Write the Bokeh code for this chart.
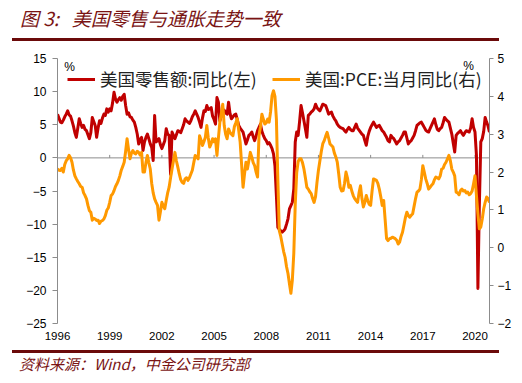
import pandas as pd
from bokeh.plotting import figure
from bokeh.models import Range1d, LinearAxis, FixedTicker, Span, Legend, LegendItem, Label, Div
from bokeh.layouts import column
from bokeh.embed import file_html
from bokeh.resources import INLINE

# ---------------- texts ----------------
TITLE = "图 3:   美国零售与通胀走势一致"
SOURCE = "资料来源：Wind，中金公司研究部"
SERIES_LEFT = "美国零售额:同比(左)"
SERIES_RIGHT = "美国:PCE:当月同比(右)"
UNIT = "%"
START_MONTH = "1996-01-01"

# ---------------- data (monthly, Jan 1996 - Nov 2020) ----------------
retail_yoy = [
    6.6, 6.0, 5.4, 5.3, 5.7, 6.2, 6.6, 7.1, 6.5, 6.3, 5.6, 4.8,          # 1996
    3.8, 3.1, 4.5, 5.9, 5.2, 4.6, 4.9, 4.3, 4.1, 3.5, 2.9, 3.8,          # 1997
    6.1, 5.5, 4.9, 3.1, 4.5, 5.6, 5.2, 6.0, 6.6, 6.4, 7.4, 6.9,          # 1998
    7.4, 7.1, 8.3, 9.9, 8.9, 8.4, 8.8, 9.1, 8.7, 9.3, 9.6, 7.9,          # 1999
    6.6, 6.8, 6.2, 6.1, 5.7, 5.4, 4.6, 3.6, 2.1, 2.8, 3.1, 1.1,          # 2000
    2.4, 3.1, 3.6, 2.9, 2.1, 1.6, -0.4, 6.4, 2.4, 2.6, 2.9, 2.0,         # 2001
    1.4, 2.0, 2.6, 4.4, 3.6, 3.4, -2.5, 3.9, 3.4, 2.9, 3.5, 4.1,         # 2002
    4.0, 3.8, 4.4, 5.0, 5.9, 5.6, 5.4, 5.2, 5.6, 6.2, 6.6, 7.1,          # 2003
    6.6, 6.1, 5.4, 4.6, 6.0, 7.1, 7.0, 7.9, 7.3, 7.4, 7.6, 6.3,          # 2004
    5.8, 5.1, 9.1, 8.4, 5.6, 6.4, 6.9, 7.2, 6.8, 6.6, 8.4, 6.7,          # 2005
    5.9, 6.2, 6.5, 6.6, 5.8, 4.9, 4.5, 4.2, 3.9, 3.0, 2.1, 2.7,          # 2006
    3.4, 3.6, 3.9, 3.2, 2.6, 3.3, 4.1, 4.6, 5.1, 4.0, 3.4, 2.9,          # 2007
    2.6, 2.1, 2.3, 1.9, 1.4, 0.6, -1.2, -5.7, -10.5, -10.8, -11.0, -11.2,  # 2008
    -11.0, -10.7, -10.0, -9.2, -7.7, -7.2, -6.7, -4.7, 2.4, 3.9, 3.4, 5.5,  # 2009
    7.9, 6.8, 5.6, 4.4, 3.1, 6.4, 6.6, 6.9, 7.1, 7.4, 8.1, 7.6,          # 2010
    7.3, 7.1, 7.6, 8.1, 8.0, 7.9, 7.3, 6.6, 6.8, 6.9, 6.3, 5.9,          # 2011
    5.6, 5.1, 4.8, 4.6, 4.5, 4.4, 4.1, 3.9, 4.3, 4.6, 4.3, 4.1,          # 2012
    4.1, 4.6, 5.1, 4.5, 4.2, 3.9, 3.6, 3.4, 2.6, 1.9, 3.2, 4.0,          # 2013
    4.6, 5.0, 5.4, 5.0, 4.6, 4.8, 4.9, 4.5, 4.1, 3.9, 3.5, 3.1,          # 2014
    2.6, 2.4, 3.4, 3.1, 2.9, 2.5, 2.1, 2.4, 2.6, 3.0, 3.4, 3.9,          # 2015
    3.9, 3.0, 2.1, 2.4, 2.6, 3.0, 3.4, 4.1, 4.9, 5.1, 5.3, 5.4,          # 2016
    5.0, 4.6, 4.2, 4.0, 3.9, 4.4, 4.9, 5.4, 5.9, 5.0, 4.3, 4.1,          # 2017
    4.4, 4.6, 5.3, 6.1, 5.8, 5.6, 5.4, 4.5, 3.6, 2.2, 0.9, 3.4,          # 2018
    3.7, 3.9, 4.1, 3.7, 3.4, 3.8, 4.1, 4.0, 3.9, 4.5, 5.9, 4.6,          # 2019
    3.9, 0.4, -19.7, -7.2, 2.4, 2.9, 4.0, 6.1, 5.4, 4.8, 3.9,            # 2020
]

pce_yoy = [
    2.08, 2.05, 2.04, 2.10, 2.00, 2.20, 2.30, 2.35, 2.44, 2.38, 2.26, 2.05,  # 1996
    1.90, 1.82, 1.75, 1.69, 1.62, 1.60, 1.45, 1.38, 1.29, 1.12, 0.98, 0.94,  # 1997
    0.73, 0.78, 0.76, 0.72, 0.73, 0.64, 0.70, 0.72, 0.76, 0.85, 0.99, 1.05,  # 1998
    1.20, 1.38, 1.42, 1.51, 1.62, 1.69, 1.78, 1.90, 2.05, 2.15, 2.26, 2.55,  # 1999
    2.88, 2.60, 2.35, 2.50, 2.57, 2.50, 2.48, 2.55, 2.52, 2.45, 2.52, 2.00,  # 2000
    2.00, 2.25, 2.44, 2.25, 2.08, 1.70, 1.45, 1.29, 1.20, 1.12, 0.73, 0.95,  # 2001
    1.20, 1.10, 1.03, 1.25, 1.45, 1.60, 1.85, 2.08, 2.30, 2.52, 2.30, 2.13,  # 2002
    1.95, 1.80, 1.73, 1.70, 1.82, 1.85, 1.78, 1.85, 1.95, 2.05, 2.25, 2.44,  # 2003
    2.40, 2.35, 2.96, 2.85, 2.70, 2.80, 2.92, 3.23, 2.90, 2.66, 2.75, 2.88,  # 2004
    2.80, 2.88, 2.44, 2.90, 3.32, 3.55, 3.79, 3.23, 3.00, 2.88, 3.14, 3.05,  # 2005
    3.00, 2.96, 3.20, 3.30, 3.41, 3.10, 2.79, 2.20, 1.60, 1.95, 2.26, 2.08,  # 2006
    2.30, 2.52, 2.40, 2.25, 2.17, 2.00, 1.87, 2.96, 3.20, 3.53, 3.40, 3.27,  # 2007
    3.30, 3.40, 3.32, 3.60, 4.02, 4.15, 4.00, 3.40, 1.80, 0.45, 0.30, 0.10,  # 2008
    -0.10, -0.25, -0.50, -0.68, -0.95, -1.20, -0.85, -0.15, 1.15, 1.98, 2.28, 2.35,  # 2009
    2.35, 2.25, 2.08, 1.85, 1.60, 1.55, 1.48, 1.43, 1.30, 1.20, 1.35, 1.73,  # 2010
    2.05, 2.30, 2.55, 2.75, 2.83, 2.95, 3.05, 2.90, 2.74, 2.70, 2.66, 2.50,  # 2011
    2.40, 2.26, 1.95, 1.60, 1.50, 1.51, 1.70, 2.00, 1.85, 1.60, 1.65, 1.50,  # 2012
    1.38, 1.30, 1.25, 1.20, 1.45, 1.64, 1.30, 1.08, 1.20, 1.38, 1.25, 1.15,  # 2013
    1.12, 1.50, 1.82, 1.80, 1.78, 1.70, 1.55, 1.35, 1.12, 1.25, 0.75, 0.24,  # 2014
    0.19, 0.24, 0.25, 0.28, 0.26, 0.24, 0.20, 0.10, 0.15, 0.30, 0.41, 0.60,  # 2015
    0.80, 0.94, 0.85, 0.81, 0.86, 0.90, 1.10, 1.30, 1.47, 1.50, 1.55, 1.80,  # 2016
    2.17, 2.00, 1.82, 1.70, 1.55, 1.60, 1.65, 1.69, 1.80, 1.87, 1.85, 1.82,  # 2017
    1.90, 2.08, 2.10, 2.20, 2.26, 2.35, 2.44, 2.30, 2.08, 2.00, 1.90, 1.47,  # 2018
    1.45, 1.40, 1.51, 1.55, 1.50, 1.51, 1.45, 1.47, 1.40, 1.43, 1.50, 1.69,  # 2019
    1.90, 1.38, 0.90, 0.50, 0.55, 0.76, 1.03, 1.20, 1.34, 1.30, 1.20,        # 2020
]

year_ticks = [1996, 1999, 2002, 2005, 2008, 2011, 2014, 2017, 2020]
year_labels = ["1996", "1999", "2002", "2005", "2008", "2011", "2014", "2017", "2020"]
left_ticks = [-25, -20, -15, -10, -5, 0, 5, 10, 15]
right_ticks = [-2, -1, 0, 1, 2, 3, 4, 5]

# ---------------- derived x positions ----------------
dates = pd.date_range(START_MONTH, periods=len(retail_yoy), freq="MS")
xs = [d.year + (d.month - 1) / 12.0 for d in dates]

# ---------------- styling ----------------
CJK = "Noto Sans CJK SC"
LAT = "Liberation Sans"
RED = "#C00000"
ORANGE = "#FF9900"
MAROON = "#7A1414"
RULE = "#6B0A0A"
AXIS = "#8C8C8C"
W = 514

# ---------------- header ----------------
header_html = (
    '<div style="position:relative;width:514px;height:44px;">'
    '<div style="position:absolute;left:20px;top:5px;font-family:\'Noto Sans CJK SC\';'
    'font-style:italic;font-size:19px;line-height:26px;color:%s;white-space:pre;">%s</div>'
    '<div style="position:absolute;left:12px;top:38px;width:487px;height:3px;background:%s;"></div>'
    '</div>' % (MAROON, TITLE, RULE)
)
header = Div(text=header_html, width=W, height=44, margin=0)

# ---------------- main chart ----------------
p = figure(width=W, height=301, output_backend="svg", toolbar_location=None,
           x_range=Range1d(xs[0], xs[-1]), y_range=Range1d(-25, 15),
           min_border_left=57, min_border_right=25, min_border_top=14,
           min_border_bottom=22, outline_line_color=None)
p.extra_y_ranges = {"r": Range1d(-2, 5)}
p.xgrid.visible = False
p.ygrid.visible = False

zero = Span(location=0, dimension="width", line_color=AXIS, line_width=1, level="underlay")
p.add_layout(zero)
p.segment(x0=year_ticks[1:], y0=[0] * (len(year_ticks) - 1),
          x1=year_ticks[1:], y1=[0.45] * (len(year_ticks) - 1),
          line_color=AXIS, line_width=1)

r1 = p.line(xs, retail_yoy, line_color=RED, line_width=3, line_join="round")
r2 = p.line(xs, pce_yoy, line_color=ORANGE, line_width=3, line_join="round", y_range_name="r")

# x axis (labels only)
xa = p.xaxis[0]
xa.ticker = FixedTicker(ticks=year_ticks)
xa.major_label_overrides = {t: l for t, l in zip(year_ticks, year_labels)}
xa.axis_line_color = None
xa.major_tick_line_color = None
xa.minor_tick_line_color = None
xa.major_tick_in = 0
xa.major_tick_out = 0
xa.major_label_standoff = 8
xa.major_label_text_font = LAT
xa.major_label_text_font_size = "11.5px"
xa.major_label_text_color = "#000000"

# left axis
ya = p.yaxis[0]
ya.ticker = FixedTicker(ticks=left_ticks)
ya.axis_line_color = AXIS
ya.major_tick_line_color = AXIS
ya.minor_tick_line_color = None
ya.major_tick_in = 0
ya.major_tick_out = 5
ya.major_label_standoff = 6
ya.major_label_text_font = LAT
ya.major_label_text_font_size = "12px"
ya.major_label_text_color = "#000000"

# right axis
ra = LinearAxis(y_range_name="r", ticker=FixedTicker(ticks=right_ticks))
ra.axis_line_color = AXIS
ra.major_tick_line_color = AXIS
ra.minor_tick_line_color = None
ra.major_tick_in = 0
ra.major_tick_out = 4
ra.major_label_standoff = 4
ra.major_label_text_font = LAT
ra.major_label_text_font_size = "12px"
ra.major_label_text_color = "#000000"
p.add_layout(ra, "right")

# unit labels
p.add_layout(Label(x=1996.7, y=13.7, text=UNIT, text_align="center", text_baseline="middle",
                   text_font=LAT, text_font_size="12px", text_color="#000000"))
p.add_layout(Label(x=2019.63, y=13.8, text=UNIT, text_align="center", text_baseline="middle",
                   text_font=LAT, text_font_size="12px", text_color="#000000"))

# legends
for label, rend, loc in ((SERIES_LEFT, r1, (10, 232)), (SERIES_RIGHT, r2, (215, 232))):
    lg = Legend(items=[LegendItem(label=label, renderers=[rend])], location=loc,
                orientation="horizontal", border_line_color=None, background_fill_alpha=0,
                padding=0, margin=0, spacing=0, glyph_width=28, glyph_height=16,
                label_standoff=5, label_height=16,
                label_text_font=CJK, label_text_font_size="17.5px", label_text_color="#222222")
    p.add_layout(lg)

# ---------------- footer ----------------
footer_html = (
    '<div style="position:relative;width:514px;height:30px;">'
    '<div style="position:absolute;left:12px;top:5px;width:487px;height:2.5px;background:%s;"></div>'
    '<div style="position:absolute;left:19px;top:9px;font-family:\'Noto Sans CJK SC\';'
    'font-style:italic;font-size:15px;line-height:20px;color:%s;white-space:pre;">%s</div>'
    '</div>' % (RULE, MAROON, SOURCE)
)
footer = Div(text=footer_html, width=W, height=30, margin=0)

layout = column(header, p, footer, spacing=0)
open("out.html", "w").write(file_html(layout, INLINE))
